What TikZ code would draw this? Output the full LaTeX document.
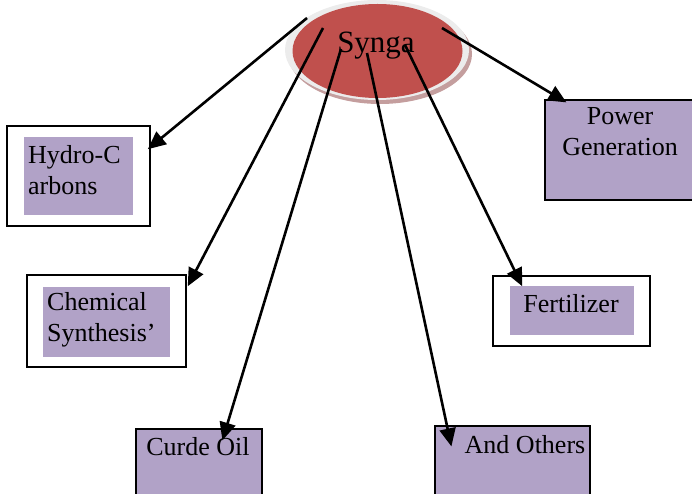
\documentclass[tikz,border=0pt]{standalone}
\usepackage{fontspec}
\setmainfont{Liberation Serif}
\usetikzlibrary{arrows.meta, positioning, calc, shapes.geometric}
\definecolor{boxpurple}{RGB}{177,162,199}
\definecolor{syngared}{RGB}{192,80,77}
\definecolor{ringgray}{RGB}{236,236,236}
\definecolor{shadowred}{RGB}{196,158,158}

\begin{document}
\begin{tikzpicture}[x=1pt, y=-1pt,
    outerbox/.style={draw, line width=1.5pt, fill=white, inner sep=0pt},
    pbox/.style={fill=boxpurple, inner sep=0pt},
    pboxd/.style={pbox, draw, line width=1.2pt},
    lbl/.style={font=\fontsize{26}{31}\selectfont, inner sep=0pt},
    arr/.style={-{Triangle[length=18pt, width=16pt]}, line width=2.6pt}]
    \useasboundingbox (0,0) rectangle (692,494);
    \clip (0,0) rectangle (692,494);

    % Syngas disc
    \fill[shadowred] (380,54) ellipse [x radius=92, y radius=50];
    \fill[ringgray] (377,50) ellipse [x radius=92, y radius=50];
    \node[ellipse, fill=syngared, minimum width=170, minimum height=94, inner sep=0pt] (syn) at (377.5,51) {};
    \node[lbl, font=\fontsize{31}{36}\selectfont, anchor=base] (syntxt) at (376,53) {Synga};

    % Framed boxes
    \node[outerbox, minimum width=143, minimum height=100] (hydo) at (78.5,176) {};
    \node[pbox, minimum width=109, minimum height=78] (hydi) at (78.5,176) {};
    \node[lbl, align=left, anchor=north west] (hydt) at (28,145) {Hydro-C\\arbons};

    \node[outerbox, minimum width=159, minimum height=92] (cheo) at (106.5,321) {};
    \node[pbox, minimum width=127, minimum height=70] (chei) at (106.5,322) {};
    \node[lbl, align=left, anchor=north west] (chet) at (47,292) {Chemical\\Synthesis'};

    \node[outerbox, minimum width=157, minimum height=70] (fero) at (571.5,311) {};
    \node[pbox, minimum width=124, minimum height=49] (feri) at (572,310.5) {};
    \node[lbl, anchor=base] (fert) at (571,312) {Fertilizer};

    % Plain purple boxes
    \node[pboxd, minimum width=152, minimum height=100] (pow) at (621,150) {};
    \node[lbl, align=center, anchor=north] (powt) at (620,107) {Power\\Generation};

    \node[pboxd, minimum width=126, minimum height=80] (cro) at (199,469) {};
    \node[lbl, anchor=base] (crot) at (198,455) {Curde Oil};

    \node[pboxd, minimum width=155, minimum height=80] (oth) at (512.5,466) {};
    \node[lbl, anchor=base] (otht) at (525,453) {And Others};

    % Arrow starts inside the disc
    \coordinate (s1) at (307,18);
    \coordinate (s2) at (323,28);
    \coordinate (s3) at (341,49);
    \coordinate (s4) at (367,53);
    \coordinate (s5) at (405,45);
    \coordinate (s6) at (442,28);

    % Arrows
    \draw[arr] (s1) -- ([shift={(-3,24)}]hydo.north east);
    \draw[arr] (s2) -- ([shift={(1,12)}]cheo.north east);
    \draw[arr] (s3) -- ([shift={(87,12)}]cro.north west);
    \draw[arr] (s4) -- ([shift={(17,21)}]oth.north west);
    \draw[arr] (s5) -- ([shift={(30,11)}]fero.north west);
    \draw[arr] (s6) -- ([shift={(22,3)}]pow.north west);
\end{tikzpicture}
\end{document}
